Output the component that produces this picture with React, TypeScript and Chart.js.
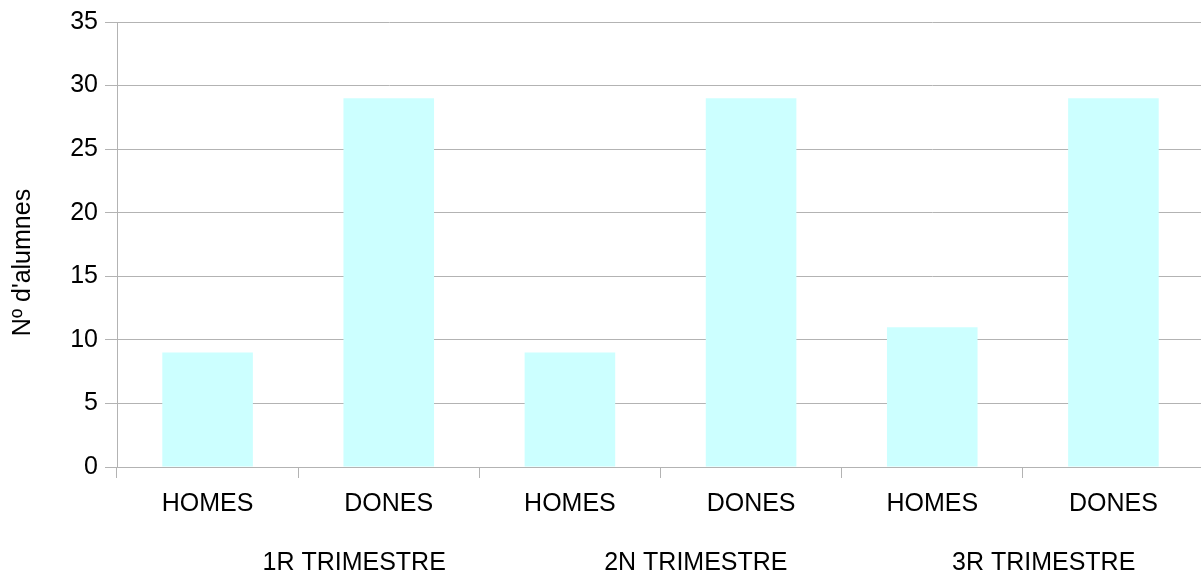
import React, { useEffect, useRef } from "react";
import { Chart, registerables } from "chart.js";

Chart.register(...registerables);

const categories = ["HOMES", "DONES", "HOMES", "DONES", "HOMES", "DONES"];
const values = [9, 29, 9, 29, 11, 29];
const groupLabels = ["1R TRIMESTRE", "2N TRIMESTRE", "3R TRIMESTRE"];
const yTitle = "Nº d'alumnes";

const FONT = "'Liberation Sans', Arial, sans-serif";
const GRID = "#b3b3b3";

// label anchor positions (in category units) as laid out in the original
const groupAnchors = [0.809, 2.695, 4.615];

const extrasPlugin = {
  id: "extras",
  afterDraw(chart: any) {
    const ctx = chart.ctx;
    const x = chart.scales.x;
    const area = chart.chartArea;
    ctx.save();
    ctx.fillStyle = "#000";
    ctx.font = `25px ${FONT}`;
    ctx.textAlign = "center";
    ctx.textBaseline = "middle";
    groupLabels.forEach((g, i) => {
      ctx.fillText(g, x.getPixelForValue(groupAnchors[i]), 563);
    });
    ctx.translate(23, (area.top + area.bottom) / 2 + 18);
    ctx.rotate(-Math.PI / 2);
    ctx.fillText(yTitle, 0, 0);
    ctx.restore();
  },
};

export default function App() {
  const ref = useRef<HTMLCanvasElement | null>(null);
  useEffect(() => {
    if (!ref.current) return;
    const chart = new Chart(ref.current, {
      type: "bar",
      data: {
        labels: categories,
        datasets: [
          {
            data: values,
            backgroundColor: "#ccffff",
            borderWidth: 0,
            barPercentage: 0.5,
            categoryPercentage: 1.0,
          },
        ],
      },
      options: {
        responsive: false,
        animation: false,
        devicePixelRatio: 1,
        layout: { padding: { top: 22, left: 0, right: 0, bottom: 0 } },
        plugins: { legend: { display: false }, tooltip: { enabled: false } },
        scales: {
          x: {
            offset: true,
            grid: {
              offset: true,
              drawOnChartArea: false,
              drawTicks: true,
              tickLength: 11,
              color: GRID,
              lineWidth: 1,
            },
            border: { color: GRID },
            ticks: {
              color: "#000",
              font: { family: FONT, size: 25 },
              padding: 11,
              maxRotation: 0,
              autoSkip: false,
            },
            afterFit: (s: any) => {
              s.height = 108;
            },
          },
          y: {
            min: 0,
            max: 35,
            ticks: {
              stepSize: 5,
              color: "#000",
              font: { family: FONT, size: 25 },
              padding: 7,
            },
            grid: { color: GRID, tickLength: 12, lineWidth: 1 },
            border: { color: GRID },
            afterFit: (s: any) => {
              s.width = 117;
            },
          },
        },
      },
      plugins: [extrasPlugin],
    });
    return () => chart.destroy();
  }, []);
  return (
    <div
      style={{
        position: "fixed",
        left: 0,
        top: 0,
        width: 1201,
        height: 575,
        overflow: "hidden",
        background: "#fff",
      }}
    >
      <canvas ref={ref} width={1204} height={575} style={{ width: 1204, height: 575, display: "block" }} />
    </div>
  );
}
